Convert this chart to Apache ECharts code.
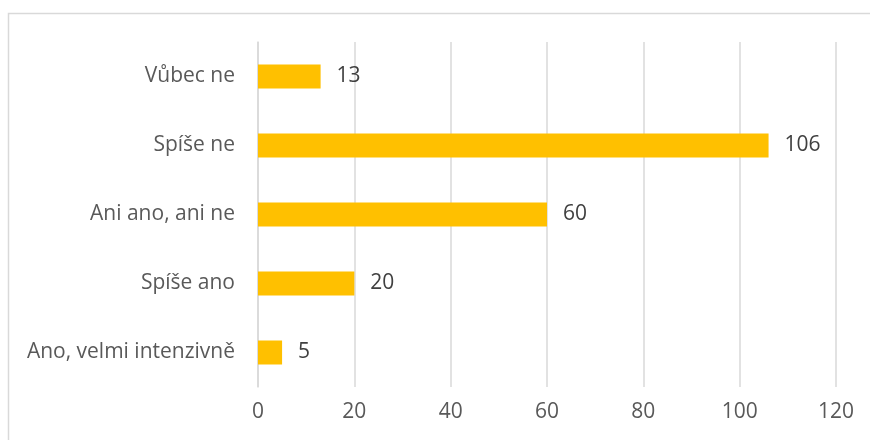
<!DOCTYPE html>
<html><head><meta charset="utf-8">
<script src="https://cdn.jsdelivr.net/npm/echarts@6/dist/echarts.min.js"></script>
<style>html,body{margin:0;padding:0;background:#fff}#c{width:870px;height:440px}</style>
</head><body><div id="c"></div>
<script>
const categories = ["Ano, velmi intenzivně", "Spíše ano", "Ani ano, ani ne", "Spíše ne", "Vůbec ne"];
const values = [5, 20, 60, 106, 13];
const xTicks = [0, 20, 40, 60, 80, 100, 120];

const chart = echarts.init(document.getElementById('c'), null, {renderer: 'canvas'});
const font = '"Open Sans", Lato, sans-serif';
chart.setOption({
  animation: false,
  backgroundColor: '#fff',
  graphic: [{type: 'rect', shape: {x: 8.5, y: 13.5, width: 900, height: 500}, style: {fill: 'none', stroke: '#d9d9d9', lineWidth: 1.5}, silent: true}],
  grid: {left: 258, right: 34, top: 42, bottom: 53, containLabel: false},
  xAxis: {
    type: 'value', min: xTicks[0], max: xTicks[xTicks.length-1], interval: 20,
    axisLine: {show: false}, axisTick: {show: false},
    splitLine: {lineStyle: {color: '#d9d9d9', width: 1.5}},
    axisLabel: {color: '#595959', fontSize: 21, fontFamily: font, margin: 15}
  },
  yAxis: {
    type: 'category', data: categories,
    axisLine: {show: true, lineStyle: {color: '#d9d9d9', width: 1.5}}, axisTick: {show: false},
    axisLabel: {color: '#595959', fontSize: 21, fontFamily: font, margin: 23}
  },
  series: [{
    type: 'bar', data: values, barWidth: 24,
    itemStyle: {color: '#FFC000'},
    label: {show: true, position: 'right', distance: 16, color: '#404040', fontSize: 21, fontFamily: font}
  }]
});
</script></body></html>
